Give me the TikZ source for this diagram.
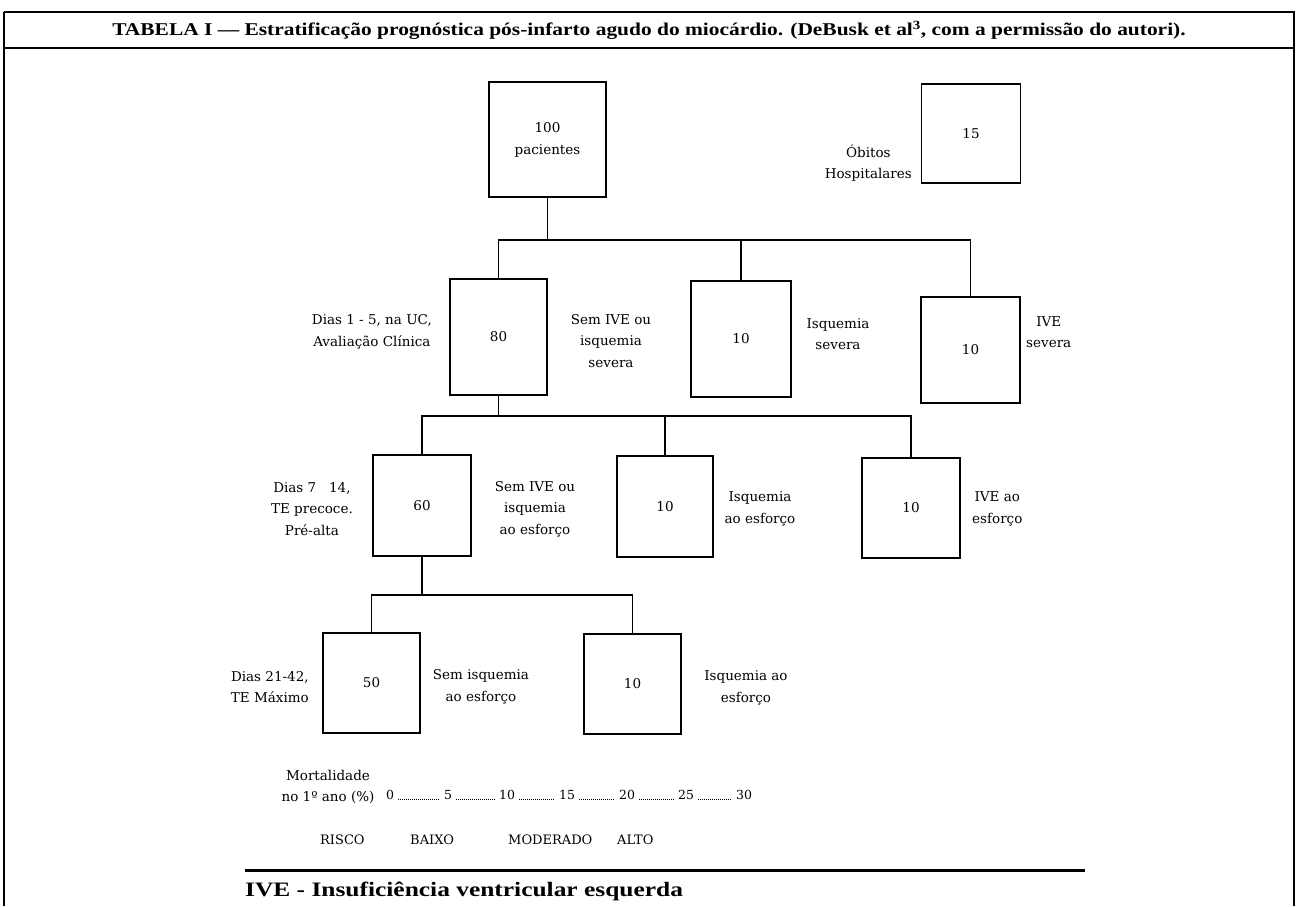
\documentclass[tikz,border=0pt]{standalone}
\usepackage{fontspec}
\setmainfont{DejaVu Serif}
\newfontfamily\tfont[FakeStretch=1.19]{Liberation Serif}
\newfontfamily\ffont[FakeStretch=1.24]{Liberation Serif}
\begin{document}
\begin{tikzpicture}[x=1pt,y=-1pt,
  box/.style={draw, line width=1.8pt, inner sep=0pt, font=\fontsize{13.5}{22}\selectfont, align=center},
  lbl/.style={font=\fontsize{13.5}{21.5}\selectfont, align=center, inner sep=0pt},
  conn/.style={line width=1.8pt},
  risk/.style={font=\fontsize{13}{14}\selectfont, anchor=west, inner sep=0pt},
  num/.style={font=\fontsize{12.5}{14}\selectfont, inner sep=0pt},
  dotsline/.style={line width=0.8pt, dash pattern=on 0.8pt off 1.2pt},
]
\useasboundingbox (0,0) rectangle (1298,906);
% frame
\draw[line width=1.3pt] (4,12) -- (1294,12) -- (1294,906) (4,906) -- (4,12);
\draw[line width=1.3pt] (4,48) -- (1294,48);
\node[font=\tfont\bfseries\fontsize{18}{20}\selectfont, inner sep=0pt] (title) at (649,30)
  {TABELA I — Estratificação prognóstica pós-infarto agudo do miocárdio. (DeBusk et al\textsuperscript{3}, com a permissão do autori).};

% boxes
\node[box, minimum width=117, minimum height=115] (n100) at (547.5,139.5) {100\\pacientes};
\node[box, minimum width=99, minimum height=99] (n15) at (971,133.5) {15};
\node[box, minimum width=97, minimum height=116] (n80) at (498.5,337) {80};
\node[box, minimum width=100, minimum height=116] (n10a) at (741,339) {10};
\node[box, minimum width=99, minimum height=106] (n10b) at (970.5,350) {10};
\node[box, minimum width=98, minimum height=101] (n60) at (422,505.5) {60};
\node[box, minimum width=96, minimum height=101] (n10c) at (665,506.5) {10};
\node[box, minimum width=98, minimum height=100] (n10d) at (911,508) {10};
\node[box, minimum width=97, minimum height=100] (n50) at (371.5,683) {50};
\node[box, minimum width=97, minimum height=100] (n10e) at (632.5,684) {10};

% connectors
\coordinate (j1) at (547.5,240);
\coordinate (j2) at (498.5,416);
\coordinate (j3) at (422,595);
\draw[line width=1.2pt] (n100.south) -- (j1);
\draw[conn] (n80.north) |- (n10b.north |- j1) -- (n10b.north);
\draw[conn] (n10a.north) -- (n10a.north |- j1);
\draw[conn] (n80.south) -- (j2);
\draw[conn] (n60.north) |- (n10d.north |- j2) -- (n10d.north);
\draw[conn] (n10c.north) -- (n10c.north |- j2);
\draw[conn] (n60.south) -- (j3);
\draw[conn] (n50.north) |- (n10e.north |- j3) -- (n10e.north);

% labels
\node[lbl, anchor=east] (obitos) at (912,163) {Óbitos\\Hospitalares};
\node[lbl, anchor=east] (d1) at (432,332) {Dias 1 - 5, na UC,\\Avaliação Clínica};
\node[lbl] (s1) at (611,341) {Sem IVE ou\\isquemia\\severa};
\node[lbl] (is1) at (838,334) {Isquemia\\severa};
\node[lbl, anchor=west] (ive1) at (1026,332) {IVE\\severa};
\node[lbl, anchor=east] (d2) at (353,509) {Dias 7 \ \ 14,\\TE precoce.\\Pré-alta};
\node[lbl] (s2) at (535,509) {Sem IVE ou\\isquemia\\ao esforço};
\node[lbl] (is2) at (760,509) {Isquemia\\ao esforço};
\node[lbl, anchor=west] (ive2) at (972,509) {IVE ao\\esforço};
\node[lbl, anchor=east] (d3) at (309,687) {Dias 21-42,\\TE Máximo};
\node[lbl] (s3) at (481,687) {Sem isquemia\\ao esforço};
\node[lbl] (is3) at (746,688) {Isquemia ao\\esforço};
\node[lbl] (mort) at (328,787) {Mortalidade\\no 1º ano (\%)};

% mortality scale
\node[num] (s0) at (390,795) {0};
\node[num] (s5) at (448,795) {5};
\node[num] (s10) at (507,795) {10};
\node[num] (s15) at (567,795) {15};
\node[num] (s20) at (627,795) {20};
\node[num] (s25) at (686,795) {25};
\node[num] (s30) at (744,795) {30};
\foreach \a/\b in {s0/s5,s5/s10,s10/s15,s15/s20,s20/s25,s25/s30}
  \draw[dotsline] ([xshift=4pt]\a.base east) -- ([xshift=-4pt]\b.base west);

% risk row
\node[risk] (risco) at (320,840) {RISCO};
\node[risk] (baixo) at (410,840) {BAIXO};
\node[risk] (moder) at (508,840) {MODERADO};
\node[risk] (alto) at (617,840) {ALTO};

% rule and footnote
\draw[line width=3pt] (245,870) -- (1085,870);
\node[font=\ffont\bfseries\fontsize{20.5}{22}\selectfont, anchor=west, inner sep=0pt] (foot) at (245,891)
  {IVE - Insuficiência ventricular esquerda};
\end{tikzpicture}
\end{document}
